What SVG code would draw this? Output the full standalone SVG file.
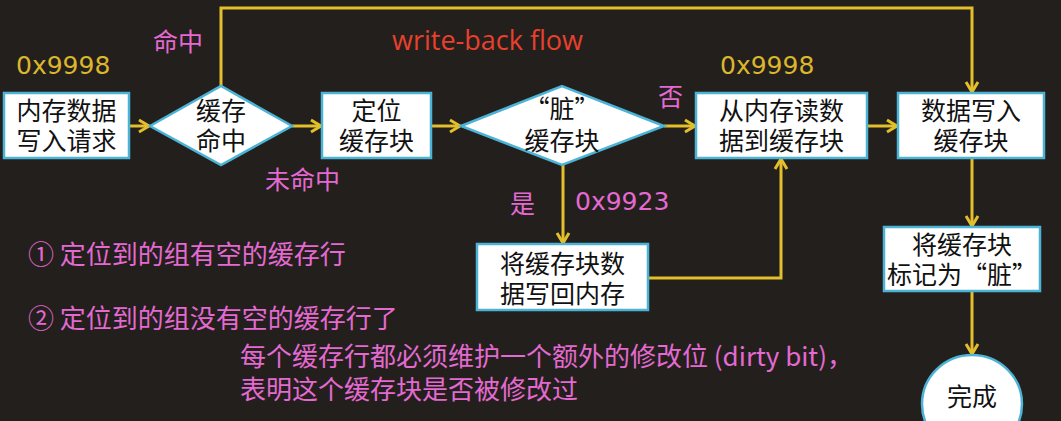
<svg xmlns="http://www.w3.org/2000/svg" width="1061" height="421" viewBox="0 0 1061 421">
<defs>
<style>
.box{fill:#ffffff;stroke:#4bb3d6;stroke-width:2.5}
.bt{font-family:"Noto Sans CJK SC","Noto Sans",sans-serif;font-size:25px;fill:#111;text-anchor:middle}
.ln{fill:none;stroke:#e3bf2c;stroke-width:3}
.pk{font-family:"Noto Sans CJK SC","Noto Sans",sans-serif;font-size:26px;fill:#e46ad2}
.yl{font-family:"DejaVu Sans",sans-serif;font-size:25px;fill:#dcb62c}
.pn{font-family:"DejaVu Sans","Noto Sans CJK SC",sans-serif;font-size:25px;fill:#e46ad2}
</style>
<marker id="ah" markerUnits="userSpaceOnUse" markerWidth="16" markerHeight="16" refX="13" refY="8" orient="auto">
<path d="M3,2 L13,8 L3,14" fill="none" stroke="#e3bf2c" stroke-width="3"/>
</marker>
</defs>
<rect width="1061" height="421" fill="#231f1c"/>

<g id="connectors">
<line class="ln" x1="129" y1="126" x2="149" y2="126" marker-end="url(#ah)"/>
<line class="ln" x1="292" y1="126" x2="321" y2="126" marker-end="url(#ah)"/>
<line class="ln" x1="431" y1="126" x2="460" y2="126" marker-end="url(#ah)"/>
<line class="ln" x1="664" y1="126" x2="695" y2="126" marker-end="url(#ah)"/>
<line class="ln" x1="867" y1="126" x2="897" y2="126" marker-end="url(#ah)"/>
<polyline class="ln" points="221,86 221,8 972,8 972,92" marker-end="url(#ah)"/>
<line class="ln" x1="563" y1="165" x2="563" y2="243" marker-end="url(#ah)"/>
<polyline class="ln" points="648,278 781,278 781,159" marker-end="url(#ah)"/>
<line class="ln" x1="972" y1="158" x2="972" y2="226" marker-end="url(#ah)"/>
<line class="ln" x1="972" y1="291" x2="972" y2="354" marker-end="url(#ah)"/>
</g>

<g id="n-request">
<rect class="box" x="4" y="93" width="125" height="65"/>
<text class="bt" x="66.5" y="120">内存数据</text>
<text class="bt" x="66.5" y="150">写入请求</text>
</g>
<g id="n-hit">
<polygon class="box" points="150,126 221,86 292,126 221,165"/>
<text class="bt" x="221" y="120">缓存</text>
<text class="bt" x="221" y="150">命中</text>
</g>
<g id="n-locate">
<rect class="box" x="322" y="93" width="109" height="65"/>
<text class="bt" x="376.5" y="120">定位</text>
<text class="bt" x="376.5" y="150">缓存块</text>
</g>
<g id="n-dirty">
<polygon class="box" points="461,126 562,86 664,126 562,165"/>
<text class="bt" x="562" y="118">“脏”</text>
<text class="bt" x="562" y="150">缓存块</text>
</g>
<g id="n-read">
<rect class="box" x="696" y="93" width="171" height="65"/>
<text class="bt" x="781.5" y="120">从内存读数</text>
<text class="bt" x="781.5" y="150">据到缓存块</text>
</g>
<g id="n-write">
<rect class="box" x="898" y="93" width="146" height="65"/>
<text class="bt" x="971" y="120">数据写入</text>
<text class="bt" x="971" y="150">缓存块</text>
</g>
<g id="n-writeback">
<rect class="box" x="477" y="244" width="171" height="66"/>
<text class="bt" x="562.5" y="273">将缓存块数</text>
<text class="bt" x="562.5" y="303">据写回内存</text>
</g>
<g id="n-mark">
<rect class="box" x="884" y="227" width="156" height="64"/>
<text class="bt" x="962" y="254">将缓存块</text>
<text class="bt" x="962" y="284">标记为“脏”</text>
</g>
<g id="n-done">
<ellipse class="box" cx="972" cy="404" rx="50" ry="49"/>
<text class="bt" x="972" y="406">完成</text>
</g>

<g id="labels">
<text class="yl" x="16" y="74">0x9998</text>
<text class="yl" x="720" y="74">0x9998</text>
<text class="pk" x="153" y="51" style="font-size:25px">命中</text>
<text class="pk" x="265" y="189" style="font-size:25px">未命中</text>
<text class="pk" x="658" y="106" style="font-size:25px">否</text>
<text class="pk" x="510" y="213" style="font-size:25px">是</text>
<text class="pn" x="575" y="210">0x9923</text>
<text x="392" y="50" font-family="'Open Sans',sans-serif" font-size="27" fill="#e8402c">write-back flow</text>
<text class="pk" x="28" y="264">① 定位到的组有空的缓存行</text>
<text class="pk" x="28" y="328">② 定位到的组没有空的缓存行了</text>
<text class="pk" x="240" y="366">每个缓存行都必须维护一个额外的修改位 (dirty bit)，</text>
<text class="pk" x="240" y="399">表明这个缓存块是否被修改过</text>
</g>
</svg>
